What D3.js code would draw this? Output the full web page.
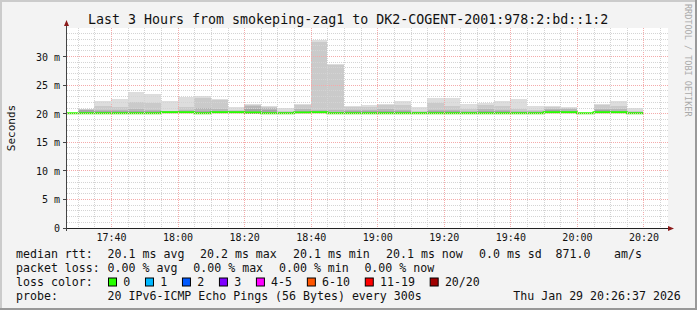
<!DOCTYPE html>
<html><head><meta charset="utf-8">
<script src="https://cdn.jsdelivr.net/npm/d3@7"></script>
<style>
html,body{margin:0;padding:0;background:#f3f3f3;}
svg{display:block;}
text{font-family:"DejaVu Sans Mono",monospace;}
</style>
</head><body>
<svg id="chart" width="697" height="310"></svg>
<script>
// ---- data (ms) ----
const times = ["17:25","17:30","17:35","17:40","17:45","17:50","17:55","18:00","18:05","18:10","18:15","18:20","18:25","18:30","18:35","18:40","18:45","18:50","18:55","19:00","19:05","19:10","19:15","19:20","19:25","19:30","19:35","19:40","19:45","19:50","19:55","20:00","20:05","20:10","20:15"];
const median = [20.1,20.1,20.1,20.1,20.1,20.1,20.25,20.25,20.1,20.25,20.25,20.2,20.1,20.1,20.2,20.25,20.1,20.1,20.1,20.1,20.1,20.1,20.1,20.1,20.1,20.1,20.1,20.1,20.1,20.25,20.25,20.1,20.25,20.25,20.1];
const pingMin = [20.1,20.0,20.0,20.0,20.0,20.0,20.05,20.05,20.0,20.05,20.05,20.0,20.0,20.0,20.05,20.05,20.0,20.0,20.0,20.0,20.0,20.0,20.0,20.0,20.0,20.0,20.0,20.0,20.0,20.05,20.05,20.1,20.05,20.05,20.0];
const pingMax = [20.1,20.8,22.2,22.6,23.85,23.45,22.2,23.0,23.1,22.6,21.1,21.7,21.3,21.05,21.7,32.9,28.75,21.3,21.6,21.7,22.2,21.1,22.7,22.8,21.7,21.9,22.3,22.6,21.35,21.35,21.2,20.1,21.7,22.2,21.05];
const ping2 = [20.1,20.75,21.4,21.1,22.1,21.9,20.5,21.1,22.7,22.4,20.6,21.6,21.2,20.5,21.5,32.6,28.5,21.2,21.2,21.5,21.5,20.5,21.9,21.3,20.8,21.5,21.3,20.9,20.6,21.2,21.0,20.1,21.5,21.3,20.4];
const ping3 = [20.1,20.7,20.7,20.6,20.8,20.7,20.4,20.6,21.0,20.8,20.45,21.3,21.0,20.3,20.8,20.7,20.6,20.6,20.6,20.8,20.7,20.3,20.7,20.6,20.5,20.8,20.7,20.5,20.4,20.9,20.8,20.1,20.9,20.8,20.3];
const ping4 = [20.1,20.6,20.45,20.4,20.45,20.45,20.5,20.55,20.4,20.55,20.5,20.9,20.6,20.3,20.55,20.5,20.35,20.4,20.4,20.5,20.4,20.3,20.4,20.4,20.35,20.45,20.4,20.35,20.35,20.6,20.5,20.1,20.6,20.55,20.25];
const xTickLabels = ["17:40","18:00","18:20","18:40","19:00","19:20","19:40","20:00","20:20"];
const yTickValues = [0,5,10,15,20,25,30];
const lossLabels = ["0","1","2","3","4-5","6-10","11-19","20/20"];
const lossColors = ["#26ff00","#00b8ff","#0059ff","#7e00ff","#ff00ff","#ff5500","#ff0000","#a00000"];
const titleText = "Last 3 Hours from smokeping-zag1 to DK2-COGENT-2001:978:2:bd::1:2";
const legendRtt = ["median rtt:","20.1 ms avg","20.2 ms max","20.1 ms min","20.1 ms now","0.0 ms sd","871.0","am/s"];
const legendLoss = ["packet loss:","0.00 % avg","0.00 % max","0.00 % min","0.00 % now"];
const legendProbe = ["probe:","20 IPv6-ICMP Echo Pings (56 Bytes) every 300s","Thu Jan 29 20:26:37 2026"];

// ---- layout ----
const W = 697, H = 310;
const svg = d3.select("#chart");
const parse = d3.timeParse("%H:%M:%S");
const parseHM = d3.timeParse("%H:%M");
const tStart = parse("17:26:37"), tEnd = parse("20:26:37");
const x = d3.scaleTime().domain([tStart, tEnd]).range([66.5, 665.5]);
const y = d3.scaleLinear().domain([0, 35]).range([228, 28]);
const px = v => Math.round(v) + 0.5;
const py = v => Math.floor(v) + 0.5;

// background + frame
svg.append("rect").attr("width", W).attr("height", H).attr("fill", "#f3f3f3");
svg.append("rect").attr("x",0).attr("y",0).attr("width",W).attr("height",2).attr("fill","#cbcbcb");
svg.append("rect").attr("x",0).attr("y",0).attr("width",2).attr("height",H).attr("fill","#cbcbcb");
svg.append("rect").attr("x",0).attr("y",H-2).attr("width",W).attr("height",2).attr("fill","#999");
svg.append("rect").attr("x",W-2).attr("y",0).attr("width",2).attr("height",H).attr("fill","#999");

// canvas
svg.append("rect").attr("x",67).attr("y",28).attr("width",601).attr("height",200).attr("fill","#fff");

const defs = svg.append("defs");
defs.append("clipPath").attr("id","clip").append("rect").attr("x",67).attr("y",28).attr("width",599).attr("height",200);

const plot = svg.append("g").attr("clip-path","url(#clip)");

// smoke layers
const bars = times.map((t,i)=>({t0: parseHM(t), t1: d3.timeMinute.offset(parseHM(t),5), i}));
const layers = [
  {hi: pingMax, col: "#dddddd"},
  {hi: ping2, col: "#cacaca"},
  {hi: ping3, col: "#b7b7b7"},
  {hi: ping4, col: "#a4a4a4"}
];
layers.forEach(L=>{
  plot.append("g").selectAll("rect").data(bars.filter(b=>L.hi[b.i] > pingMin[b.i])).join("rect")
    .attr("x", b=>x(b.t0))
    .attr("width", b=>x(b.t1)-x(b.t0))
    .attr("y", b=>y(L.hi[b.i]))
    .attr("height", b=>y(pingMin[b.i]) - y(L.hi[b.i]))
    .attr("fill", L.col)
    .attr("shape-rendering","crispEdges");
});

// grid
const grid = svg.append("g");
const minorT = d3.timeMinute.every(5).range(tStart, tEnd);
minorT.forEach(t=>{
  const major = t.getMinutes() % 20 === 0;
  grid.append("line").attr("x1",px(x(t))).attr("x2",px(x(t))).attr("y1",28).attr("y2",228)
    .attr("stroke", major ? "#f4abab" : "#d4d4d4").attr("stroke-dasharray","1,1");
});
d3.range(1,35).forEach(v=>{
  const major = v % 5 === 0;
  grid.append("line").attr("x1",67).attr("x2",668).attr("y1",py(y(v))).attr("y2",py(y(v)))
    .attr("stroke", major ? "#f4abab" : "#d4d4d4").attr("stroke-dasharray","1,1");
});

// median line (steps)
const pts = bars.map(b=>({t:b.t0, v:median[b.i]}));
pts.push({t: bars[bars.length-1].t1, v: median[median.length-1]});
const line = d3.line().x(d=>x(d.t)).y(d=>y(d.v)).curve(d3.curveStepAfter);
plot.append("path").datum(pts).attr("d", line).attr("fill","none")
  .attr("stroke", lossColors[0]).attr("stroke-width", 2);

// axes
svg.append("line").attr("x1",63).attr("x2",669).attr("y1",228.5).attr("y2",228.5).attr("stroke","#222");
svg.append("line").attr("x1",66.5).attr("x2",66.5).attr("y1",231).attr("y2",25).attr("stroke","#444");
svg.append("path").attr("d","M64,26 L69,26 L66.5,20 Z").attr("fill","#8b1a1a");
svg.append("path").attr("d","M668,226 L668,231 L674,228.5 Z").attr("fill","#8b1a1a");
yTickValues.forEach(v=>{
  svg.append("line").attr("x1",63).attr("x2",67).attr("y1",py(y(v))).attr("y2",py(y(v))).attr("stroke","#444");
});

// tick labels
svg.append("g").selectAll("text").data(xTickLabels).join("text")
  .attr("x", d=>x(parseHM(d))+0.5).attr("y", 237.5)
  .attr("text-anchor","middle").attr("dominant-baseline","central")
  .attr("font-size","10px").attr("fill","#111").text(d=>d);
svg.append("g").selectAll("text").data(yTickValues).join("text")
  .attr("x", 60).attr("y", d=>y(d)+0.5)
  .attr("text-anchor","end").attr("dominant-baseline","central")
  .attr("font-size","10px").attr("fill","#111").text(d=> d===0 ? "0" : d + " m");

// y label
svg.append("text").attr("transform","translate(11,128) rotate(-90)")
  .attr("text-anchor","middle").attr("dominant-baseline","central")
  .attr("font-size","11px").attr("fill","#111").text("Seconds");

// title
svg.append("text").attr("x",88).attr("y",19).attr("dominant-baseline","central")
  .attr("font-size","13.3px").attr("fill","#111").text(titleText);

// watermark
svg.append("text").attr("transform","translate(685,4) rotate(90)")
  .attr("font-size","8.5px").attr("fill","#aaa").text("RRDTOOL / TOBI OETIKER");

// legend
const fs = "11.6px";
function row(items, xs, yy){
  items.forEach((t,k)=>{
    svg.append("text").attr("x", xs[k]).attr("y", yy).attr("dominant-baseline","central")
      .attr("font-size", fs).attr("fill","#111").attr("xml:space","preserve").text(t);
  });
}
row(legendRtt, [16,107.6,200,293,386,479,555.6,614], 254);
row(legendLoss, [16,107.6,193.3,279,364.4], 268);
row(["loss color:"], [16], 282);
row(legendProbe, [16,107.6,513.3], 296);
const cw = 6.98;
let sx = 108.5;
lossLabels.forEach((lab,k)=>{
  svg.append("rect").attr("x", sx).attr("y", 278).attr("width",8).attr("height",8)
    .attr("fill", lossColors[k]).attr("stroke","#000").attr("stroke-width",1);
  const lx = sx + 14.7;
  svg.append("text").attr("x", lx).attr("y", 282).attr("dominant-baseline","central")
    .attr("font-size", fs).attr("fill","#111").text(lab);
  sx = lx + lab.length*cw + 15.3;
});
</script>
</body></html>
